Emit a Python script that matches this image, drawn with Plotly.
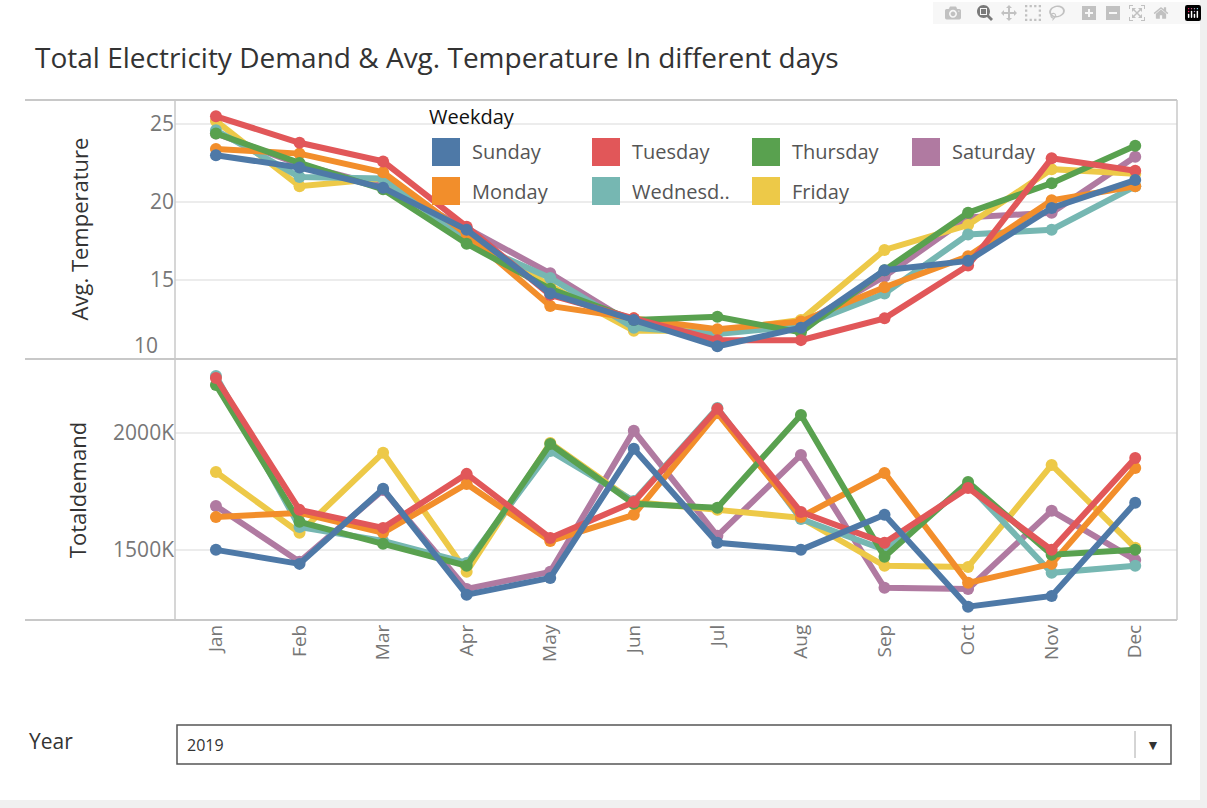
import plotly.graph_objects as go
from plotly.subplots import make_subplots

W, H = 1207, 808
months = ["Jan","Feb","Mar","Apr","May","Jun","Jul","Aug","Sep","Oct","Nov","Dec"]
weekdays = ["Sunday","Monday","Tuesday","Wednesday","Thursday","Friday","Saturday"]
colors = {"Sunday":"#4e79a7","Monday":"#f28e2b","Tuesday":"#e15759","Wednesday":"#76b7b2",
          "Thursday":"#59a14f","Friday":"#edc948","Saturday":"#b07aa1"}

temp_sunday    = [23.0,22.2,20.9,18.2,14.1,12.4,10.7,11.9,15.6,16.2,19.6,21.4]
temp_monday    = [23.4,23.1,21.9,17.9,13.3,12.5,11.8,12.3,14.5,16.5,20.1,21.0]
temp_tuesday   = [25.5,23.8,22.6,18.4,14.0,12.5,11.1,11.1,12.5,15.9,22.8,22.0]
temp_wednesday = [24.6,21.6,21.5,17.5,15.1,11.9,11.5,12.0,14.1,17.9,18.2,21.0]
temp_thursday  = [24.4,22.5,20.8,17.3,14.4,12.4,12.6,11.6,15.6,19.3,21.2,23.6]
temp_friday    = [25.2,21.0,21.5,17.8,14.6,11.7,11.7,12.4,16.9,18.5,22.1,21.8]
temp_saturday  = [24.4,22.4,21.0,18.3,15.4,12.1,11.7,12.1,15.2,19.0,19.3,22.9]

dem_sunday    = [1500,1440,1761,1308,1380,1932,1530,1500,1650,1257,1303,1701]
dem_monday    = [1641,1658,1573,1782,1538,1650,2085,1641,1829,1359,1440,1850]
dem_tuesday   = [2235,1671,1594,1825,1551,1705,2103,1662,1530,1765,1500,1893]
dem_wednesday = [2244,1598,1538,1444,1923,1709,2107,1632,1500,1778,1402,1432]
dem_thursday  = [2205,1620,1526,1432,1953,1697,1680,2077,1470,1790,1479,1500]
dem_friday    = [1833,1573,1915,1406,1957,1705,1671,1637,1432,1427,1863,1509]
dem_saturday  = [1688,1449,1756,1333,1406,2009,1560,1906,1338,1333,1667,1457]

temps = {"Sunday":temp_sunday,"Monday":temp_monday,"Tuesday":temp_tuesday,"Wednesday":temp_wednesday,
         "Thursday":temp_thursday,"Friday":temp_friday,"Saturday":temp_saturday}
dems = {"Sunday":dem_sunday,"Monday":dem_monday,"Tuesday":dem_tuesday,"Wednesday":dem_wednesday,
        "Thursday":dem_thursday,"Friday":dem_friday,"Saturday":dem_saturday}

def px(x): return x / W
def py(y): return 1 - y / H

fig = make_subplots(rows=2, cols=1, shared_xaxes=True, vertical_spacing=0)
draw_order = ["Saturday","Friday","Wednesday","Monday","Thursday","Tuesday","Sunday"]
xs = list(range(12))
for d in draw_order:
    fig.add_trace(go.Scatter(x=xs, y=temps[d], mode="lines+markers", line=dict(color=colors[d], width=6),
                             marker=dict(size=12, color=colors[d]), showlegend=False, name=d), row=1, col=1)
    fig.add_trace(go.Scatter(x=xs, y=[v*1000 for v in dems[d]], mode="lines+markers", line=dict(color=colors[d], width=6),
                             marker=dict(size=12, color=colors[d]), showlegend=False, name=d), row=2, col=1)

font = "Open Sans, Noto Sans, sans-serif"
fig.update_layout(
    width=W, height=H, margin=dict(l=0, r=0, t=0, b=0),
    paper_bgcolor="#f0f0f0", plot_bgcolor="white", font=dict(family=font),
    xaxis=dict(domain=[px(175), px(1177)], range=[-0.49, 11.5], showgrid=False, zeroline=False),
    xaxis2=dict(domain=[px(175), px(1177)], range=[-0.49, 11.5], tickvals=xs, ticktext=months, tickangle=-90,
                tickfont=dict(size=19, color="#777"), showgrid=False, zeroline=False, ticklen=0,
                showline=False),
    yaxis=dict(domain=[py(358), py(100)], range=[9.95, 26.55], tickvals=[15,20,25],
               tickfont=dict(size=21, color="#777"), gridcolor="#ececec", gridwidth=2, zeroline=False,
               title=dict(text="Avg. Temperature", font=dict(size=22, color="#333"), standoff=55)),
    yaxis2=dict(domain=[py(620), py(360)], range=[1200000, 2312000], tickvals=[1500000, 2000000],
                ticktext=["1500K","2000K"], tickfont=dict(size=21, color="#777"), gridcolor="#ececec",
                gridwidth=2, zeroline=False,
                title=dict(text="Totaldemand", font=dict(size=22, color="#333"), standoff=20)),
)

shapes = [
    dict(type="rect", xref="paper", yref="paper", x0=0, x1=px(1200), y0=py(800), y1=1,
         fillcolor="white", line=dict(width=0), layer="below"),
]
for y in [100, 359, 620]:
    shapes.append(dict(type="line", xref="paper", yref="paper", x0=px(25), x1=px(1177), y0=py(y), y1=py(y),
                       line=dict(color="#c8c8c8", width=2)))
shapes.append(dict(type="line", xref="paper", yref="paper", x0=px(175), x1=px(175), y0=py(620), y1=py(100),
                   line=dict(color="#c8c8c8", width=1.5)))
shapes.append(dict(type="line", xref="paper", yref="paper", x0=px(1177), x1=px(1177), y0=py(620), y1=py(100),
                   line=dict(color="#c8c8c8", width=1.5)))
shapes.append(dict(type="rect", xref="paper", yref="paper", x0=px(177), x1=px(1171), y0=py(764), y1=py(725),
                   line=dict(color="#555", width=1.5), fillcolor="white"))
shapes.append(dict(type="line", xref="paper", yref="paper", x0=px(1135), x1=px(1135), y0=py(758), y1=py(731),
                   line=dict(color="#aaa", width=1)))

annotations = [
    dict(text="Total Electricity Demand & Avg. Temperature In different days", x=px(33), y=py(57),
         xref="paper", yref="paper", xanchor="left", yanchor="middle", showarrow=False,
         font=dict(size=28, color="#333")),
    dict(text="10", x=px(160), y=py(345), xref="paper", yref="paper", xanchor="right", yanchor="middle",
         showarrow=False, font=dict(size=21, color="#777")),
    dict(text="Weekday", x=px(427), y=py(116), xref="paper", yref="paper", xanchor="left", yanchor="middle",
         showarrow=False, font=dict(size=20, color="#111")),
    dict(text="Year", x=px(27), y=py(741), xref="paper", yref="paper", xanchor="left", yanchor="middle",
         showarrow=False, font=dict(size=21, color="#333")),
    dict(text="2019", x=px(185), y=py(745), xref="paper", yref="paper", xanchor="left", yanchor="middle",
         showarrow=False, font=dict(size=16, color="#333")),
    dict(text="▼", x=px(1153), y=py(744), xref="paper", yref="paper", xanchor="center", yanchor="middle",
         showarrow=False, font=dict(size=14, color="#333")),
]
legend_items = [("Sunday", 432, 152), ("Tuesday", 592, 152), ("Thursday", 752, 152), ("Saturday", 912, 152),
                ("Monday", 432, 191), ("Wednesd..", 592, 191), ("Friday", 752, 191)]
legend_keys = ["Sunday","Tuesday","Thursday","Saturday","Monday","Wednesday","Friday"]
for (label, lx, ly), key in zip(legend_items, legend_keys):
    shapes.append(dict(type="rect", xref="paper", yref="paper", x0=px(lx), x1=px(lx+28), y0=py(ly+14), y1=py(ly-14),
                       fillcolor=colors[key], line=dict(width=0)))
    annotations.append(dict(text=label, x=px(lx+38), y=py(ly), xref="paper", yref="paper", xanchor="left",
                            yanchor="middle", showarrow=False, font=dict(size=20, color="#555")))

fig.update_layout(shapes=shapes, annotations=annotations)
fig.write_html("out.html", post_script="document.body.style.margin='0';document.body.style.overflow='hidden';")
